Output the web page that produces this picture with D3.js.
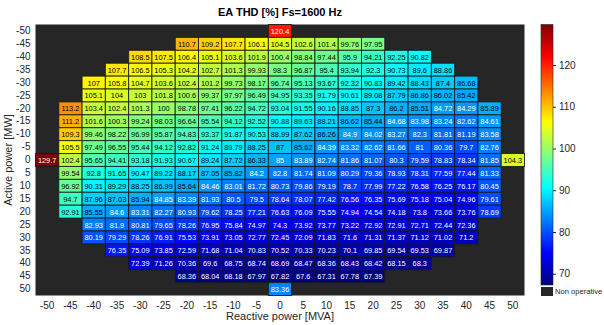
<!DOCTYPE html>
<html>
<head>
<meta charset="utf-8">
<script src="https://cdn.jsdelivr.net/npm/d3@7"></script>
<style>
  html, body { margin: 0; padding: 0; background: #fff; }
  svg { display: block; font-family: "Liberation Sans", Arial, Helvetica, sans-serif; }
</style>
</head>
<body>
<svg id="chart" width="604" height="325"></svg>
<script>
// Grid axes
const reactivePower = d3.range(-50, 51, 5);   // MVA, columns
const activePower = d3.range(-50, 51, 5);     // MW, rows (top = -50)

// First operative reactive-power column for each active-power row
const rowStartQ = [0, -20, -30, -35, -40, -40, -45, -45, -45, -45, -50,
                   -45, -45, -45, -45, -40, -40, -35, -30, -20, 0];

// EA THD [%] per active-power row, starting at rowStartQ
const thdRows = [
  [120.4],
  [110.7, 109.2, 107.7, 106.1, 104.5, 102.6, 101.4, 99.76, 97.95],
  [108.5, 107.5, 106.4, 105.1, 103.6, 101.9, 100.4, 98.84, 97.44, 95.9, 94.21, 92.25, 90.82],
  [107.7, 106.5, 105.3, 104.2, 102.7, 101.3, 99.93, 98.3, 96.87, 95.4, 93.94, 92.3, 90.73, 89.6, 88.86],
  [107, 105.8, 104.7, 103.6, 102.4, 101.2, 99.73, 98.17, 96.74, 95.13, 93.67, 92.32, 90.83, 89.42, 88.43, 87.4, 86.68],
  [105.1, 104, 103, 101.8, 100.6, 99.37, 97.97, 96.49, 94.95, 93.35, 91.79, 90.61, 89.08, 87.79, 86.86, 86.02, 85.42],
  [113.2, 103.4, 102.4, 101.3, 100, 98.78, 97.41, 96.22, 94.72, 93.04, 91.55, 90.16, 88.85, 87.3, 86.2, 85.51, 84.72, 84.29, 85.89],
  [111.2, 101.6, 100.3, 99.24, 98.03, 96.64, 95.54, 94.12, 92.52, 90.88, 89.63, 88.21, 86.62, 85.44, 84.68, 83.98, 83.24, 82.62, 84.61],
  [109.3, 99.46, 98.22, 96.99, 95.87, 94.83, 93.37, 91.87, 90.53, 88.99, 87.62, 86.26, 84.9, 84.02, 83.27, 82.3, 81.81, 81.19, 83.58],
  [105.5, 97.49, 96.55, 95.44, 94.12, 92.82, 91.24, 89.79, 88.25, 87, 85.62, 84.39, 83.32, 82.62, 81.66, 81, 80.36, 79.7, 82.76],
  [129.7, 102.4, 95.65, 94.41, 93.18, 91.93, 90.67, 89.24, 87.72, 86.33, 85, 83.89, 82.74, 81.86, 81.07, 80.3, 79.59, 78.83, 78.34, 81.85, 104.3],
  [99.54, 92.8, 91.65, 90.47, 89.22, 88.17, 87.05, 85.82, 84.2, 82.8, 81.74, 81.09, 80.29, 79.36, 78.93, 78.31, 77.59, 77.44, 81.33],
  [96.92, 90.31, 89.29, 88.25, 86.99, 85.64, 84.46, 83.01, 81.72, 80.73, 79.86, 79.19, 78.7, 77.99, 77.22, 76.58, 76.25, 76.17, 80.45],
  [94.7, 87.96, 87.03, 85.94, 84.85, 83.39, 81.93, 80.5, 79.5, 78.64, 78.07, 77.42, 76.56, 76.35, 75.69, 75.18, 75.04, 74.96, 79.61],
  [92.91, 85.55, 84.6, 83.31, 82.27, 80.93, 79.62, 78.25, 77.21, 76.63, 76.09, 75.55, 74.94, 74.54, 74.18, 73.8, 73.66, 73.76, 78.69],
  [82.93, 81.9, 80.81, 79.65, 78.26, 76.95, 75.84, 74.97, 74.3, 73.92, 73.77, 73.22, 72.92, 72.91, 72.71, 72.44, 72.36],
  [80.19, 79.29, 78.26, 76.91, 75.53, 73.91, 73.05, 72.77, 72.45, 72.09, 71.83, 71.6, 71.31, 71.37, 71.12, 71.02, 71.2],
  [76.35, 75.09, 73.85, 72.59, 71.68, 71.04, 70.83, 70.52, 70.33, 70.23, 70.1, 69.85, 69.54, 69.53, 69.87],
  [72.39, 71.26, 70.36, 69.6, 68.75, 68.74, 68.69, 68.47, 68.36, 68.43, 68.42, 68.15, 68.3],
  [68.36, 68.04, 68.18, 67.97, 67.82, 67.6, 67.31, 67.78, 67.39],
  [83.36]
];

const colorTicks = [70, 80, 90, 100, 110, 120];

// Flatten rows into cells
const cells = [];
thdRows.forEach((vals, r) => {
  vals.forEach((v, k) => {
    cells.push({ p: activePower[r], q: rowStartQ[r] + 5 * k, v });
  });
});

const allVals = cells.map(d => d.v);
const vMin = d3.min(allVals), vMax = d3.max(allVals);

// MATLAB-style jet colormap
function jet(t) {
  t = Math.max(0, Math.min(1, t));
  const c = x => Math.round(255 * Math.max(0, Math.min(1, x)));
  return [c(1.5 - Math.abs(4 * t - 3)), c(1.5 - Math.abs(4 * t - 2)), c(1.5 - Math.abs(4 * t - 1))];
}
const tScale = d3.scaleLinear().domain([vMin, vMax]).range([0, 1]);
const rgbOf = v => jet(tScale(v));
const fillOf = v => { const [r, g, b] = rgbOf(v); return `rgb(${r},${g},${b})`; };
const textOf = v => {
  const [r, g, b] = rgbOf(v);
  return (0.299 * r + 0.587 * g + 0.114 * b) / 255 > 0.5 ? "#000" : "#fff";
};

const svg = d3.select("#chart");
const plot = { left: 35.5, top: 24.5, width: 489, height: 271 };
const missingColor = "#262626";
const inkColor = "#262626";

const x = d3.scaleBand().domain(reactivePower).range([plot.left, plot.left + plot.width]);
const y = d3.scaleBand().domain(activePower).range([plot.top, plot.top + plot.height]);

// Non-operative background
svg.append("rect")
  .attr("x", plot.left).attr("y", plot.top)
  .attr("width", plot.width).attr("height", plot.height)
  .attr("fill", missingColor);

// Cells
const g = svg.append("g");
g.selectAll("rect.cell").data(cells).join("rect")
  .attr("class", "cell")
  .attr("x", d => x(d.q)).attr("y", d => y(d.p))
  .attr("width", x.bandwidth()).attr("height", y.bandwidth())
  .attr("fill", d => fillOf(d.v))
  .attr("stroke", "rgba(25,25,25,0.85)")
  .attr("stroke-width", 1);

g.selectAll("text.val").data(cells).join("text")
  .attr("class", "val")
  .attr("x", d => x(d.q) + x.bandwidth() / 2)
  .attr("y", d => y(d.p) + y.bandwidth() / 2 + 0.5)
  .attr("text-anchor", "middle")
  .attr("dominant-baseline", "central")
  .attr("font-size", 7.4)
  .attr("fill", d => textOf(d.v))
  .text(d => d.v);

// Axes
const xAxis = svg.append("g")
  .attr("transform", `translate(0,${plot.top + plot.height})`)
  .call(d3.axisBottom(x).tickSize(0).tickPadding(6));
const yAxis = svg.append("g")
  .attr("transform", `translate(${plot.left},0)`)
  .call(d3.axisLeft(y).tickSize(0).tickPadding(5));
[xAxis, yAxis].forEach(a => {
  a.select(".domain").remove();
  a.selectAll("text").attr("font-size", 10).attr("fill", inkColor)
    .attr("font-family", "Liberation Sans, Arial, sans-serif");
});

// Titles
svg.append("text")
  .attr("x", plot.left + plot.width / 2).attr("y", 16)
  .attr("text-anchor", "middle").attr("font-size", 11).attr("font-weight", "bold")
  .attr("fill", "#000")
  .text("EA THD [%] Fs=1600 Hz");
svg.append("text")
  .attr("x", plot.left + plot.width / 2).attr("y", 320)
  .attr("text-anchor", "middle").attr("font-size", 11).attr("fill", inkColor)
  .text("Reactive power [MVA]");
svg.append("text")
  .attr("transform", `translate(12,${plot.top + plot.height / 2}) rotate(-90)`)
  .attr("text-anchor", "middle").attr("font-size", 11).attr("fill", inkColor)
  .text("Active power [MW]");

// Colorbar
const cb = { x: 541, y: plot.top, w: 12, h: 260.5 };
const cScale = d3.scaleLinear().domain([vMin, vMax]).range([cb.y + cb.h, cb.y]);
const defs = svg.append("defs");
const grad = defs.append("linearGradient").attr("id", "jetGrad")
  .attr("x1", 0).attr("y1", 1).attr("x2", 0).attr("y2", 0);
d3.range(0, 1.0001, 0.0625).forEach(t => {
  const [r, gg, b] = jet(t);
  grad.append("stop").attr("offset", t).attr("stop-color", `rgb(${r},${gg},${b})`);
});
svg.append("rect")
  .attr("x", cb.x).attr("y", cb.y).attr("width", cb.w).attr("height", cb.h)
  .attr("fill", "url(#jetGrad)")
  .attr("stroke", inkColor).attr("stroke-width", 0.6);
const cAxis = svg.append("g")
  .attr("transform", `translate(${cb.x + cb.w},0)`)
  .call(d3.axisRight(cScale).tickValues(colorTicks).tickSize(3).tickPadding(3));
cAxis.select(".domain").remove();
cAxis.selectAll("line").attr("stroke", inkColor);
cAxis.selectAll("text").attr("font-size", 10).attr("fill", inkColor)
  .attr("font-family", "Liberation Sans, Arial, sans-serif");

// Non-operative legend swatch
svg.append("rect")
  .attr("x", cb.x).attr("y", 287).attr("width", cb.w).attr("height", 9)
  .attr("fill", missingColor);
svg.append("text")
  .attr("x", cb.x + cb.w + 2).attr("y", 291.5).attr("dominant-baseline", "central")
  .attr("font-size", 7.6).attr("fill", inkColor)
  .text("Non operative");
</script>
</body>
</html>
